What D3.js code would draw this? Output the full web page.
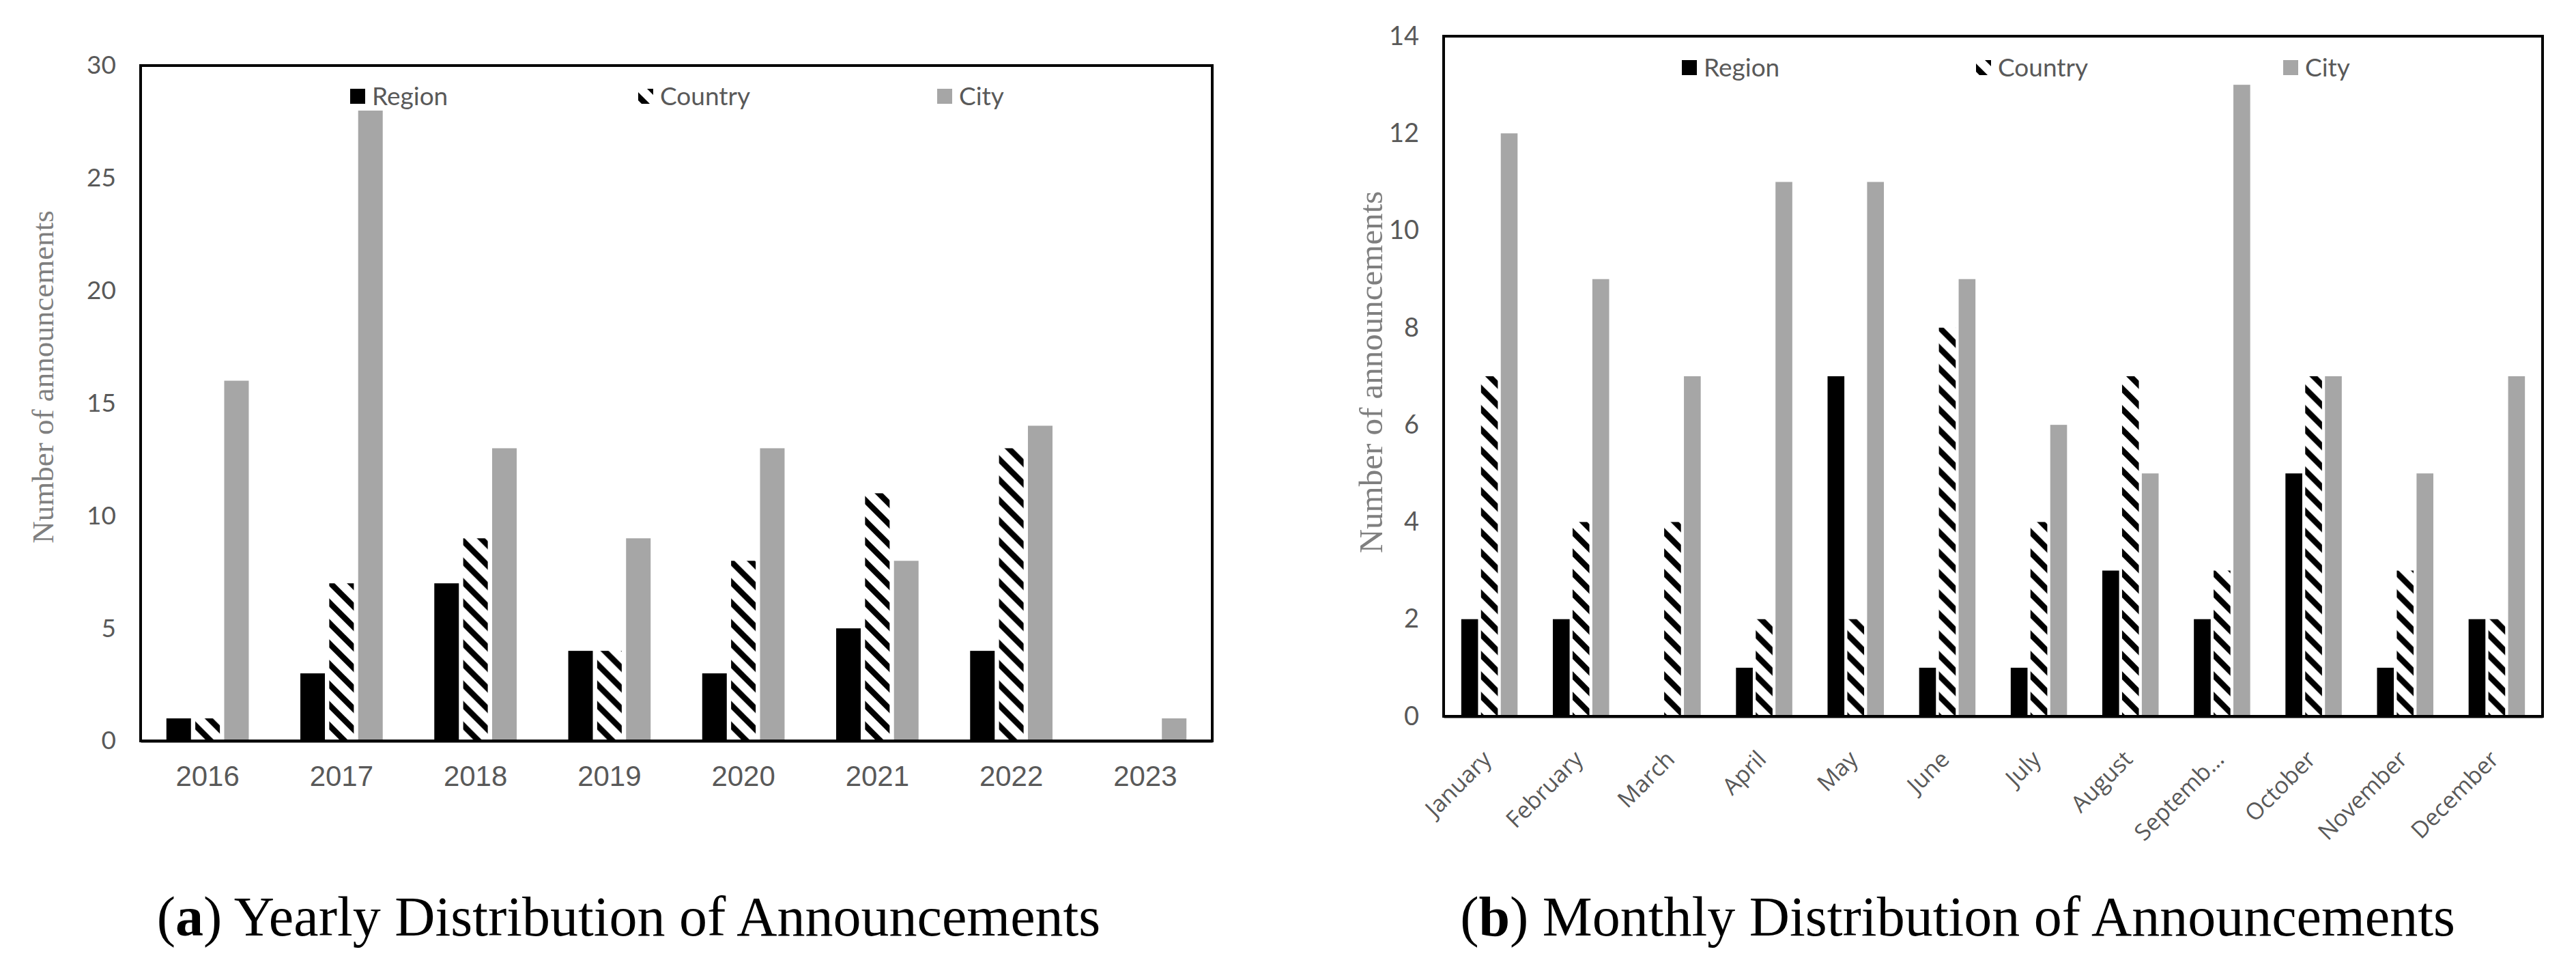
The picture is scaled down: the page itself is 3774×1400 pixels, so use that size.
<!DOCTYPE html>
<html>
<head>
<meta charset="utf-8">
<script src="https://cdn.jsdelivr.net/npm/d3@7"></script>
<style>
  body { margin: 0; background: #fff; }
  svg { display: block; }
</style>
</head>
<body>
<svg id="chart" width="3774" height="1400"></svg>
<script>
// ---- data ----
const series = ["Region", "Country", "City"];

const years = ["2016", "2017", "2018", "2019", "2020", "2021", "2022", "2023"];
const yearRegion = [1, 3, 7, 4, 3, 5, 4, 0];
const yearCountry = [1, 7, 9, 4, 8, 11, 13, 0];
const yearCity = [16, 28, 13, 9, 13, 8, 14, 1];
const yearTicks = [0, 5, 10, 15, 20, 25, 30];

const months = ["January", "February", "March", "April", "May", "June", "July",
  "August", "Septemb…", "October", "November", "December"];
const monthRegion = [2, 2, 0, 1, 7, 1, 1, 3, 2, 5, 1, 2];
const monthCountry = [7, 4, 4, 2, 2, 8, 4, 7, 3, 7, 3, 2];
const monthCity = [12, 9, 7, 11, 11, 9, 6, 5, 13, 7, 5, 7];
const monthTicks = [0, 2, 4, 6, 8, 10, 12, 14];

const yTitle = "Number of announcements";
const captionA = ["a", " Yearly Distribution of Announcements"];
const captionB = ["b", " Monthly Distribution of Announcements"];

const svg = d3.select("#chart");
svg.append("rect").attr("width", 3774).attr("height", 1400).attr("fill", "#fff");

// wide downward diagonal hatch used for the Country series
const defs = svg.append("defs");
const pat = defs.append("pattern")
  .attr("id", "hatch")
  .attr("patternUnits", "userSpaceOnUse")
  .attr("width", 30)
  .attr("height", 30);
pat.append("rect").attr("width", 30).attr("height", 30).attr("fill", "#fff");
pat.append("path")
  .attr("d", "M-8,-8L38,38M-8,22L8,38M22,-8L38,8")
  .attr("stroke", "#000")
  .attr("stroke-width", 8.5);

const fills = { Region: "#000", Country: "url(#hatch)", City: "#a6a6a6" };

function drawChart(cfg) {
  const g = svg.append("g");
  const { left, right, top, bottom } = cfg.box;

  const x0 = d3.scaleBand()
    .domain(cfg.cats)
    .range([left, right])
    .paddingInner(0.385)
    .paddingOuter(0.1925);
  const x1 = d3.scaleBand()
    .domain(series)
    .range([0, x0.bandwidth()])
    .paddingInner(0.15);
  const y = d3.scaleLinear()
    .domain([0, cfg.yMax])
    .range([bottom, top]);

  const rows = cfg.cats.map((c, i) => ({
    cat: c,
    vals: series.map((s, j) => ({ key: s, value: cfg.values[j][i] }))
  }));

  g.selectAll("g.cat")
    .data(rows)
    .join("g")
    .attr("class", "cat")
    .attr("transform", d => `translate(${x0(d.cat)},0)`)
    .selectAll("rect")
    .data(d => d.vals)
    .join("rect")
    .attr("x", d => x1(d.key))
    .attr("width", x1.bandwidth())
    .attr("y", d => y(d.value))
    .attr("height", d => y(0) - y(d.value))
    .attr("fill", d => fills[d.key]);

  // frame around the plot area
  g.append("rect")
    .attr("x", left)
    .attr("y", top)
    .attr("width", right - left)
    .attr("height", bottom - top)
    .attr("fill", "none")
    .attr("stroke", "#000")
    .attr("stroke-width", 4);

  // y axis labels
  const yAxis = g.append("g")
    .attr("transform", `translate(${left},0)`)
    .call(d3.axisLeft(y).tickValues(cfg.ticks).tickSize(0).tickPadding(36));
  yAxis.select(".domain").remove();
  yAxis.selectAll("text")
    .attr("font-family", "Lato, 'Open Sans', sans-serif")
    .attr("font-size", cfg.yFont)
    .attr("fill", "#595959");

  // x axis labels
  const xAxis = g.append("g")
    .attr("transform", `translate(0,${bottom})`)
    .call(d3.axisBottom(x0).tickSize(0).tickPadding(36));
  xAxis.select(".domain")
    .attr("stroke", "#000")
    .attr("stroke-width", 4);
  xAxis.selectAll("text")
    .attr("font-family", cfg.xFontFamily)
    .attr("font-size", cfg.xFont)
    .attr("fill", "#595959");
  if (cfg.rotate) {
    xAxis.selectAll("text")
      .attr("x", 0)
      .attr("y", 0)
      .attr("dy", 0)
      .attr("text-anchor", "end")
      .attr("transform", "translate(5,65) rotate(-45)");
  }

  // y axis title
  g.append("text")
    .attr("transform", `translate(${cfg.titleX},${cfg.titleY}) rotate(-90)`)
    .attr("text-anchor", "middle")
    .attr("dy", "0.35em")
    .attr("font-family", "'Liberation Serif', 'Times New Roman', serif")
    .attr("font-size", cfg.titleFont)
    .attr("fill", "#7f7f7f")
    .text(yTitle);

  // legend
  const lg = g.selectAll("g.legend")
    .data(series)
    .join("g")
    .attr("class", "legend")
    .attr("transform", (d, i) => `translate(${cfg.legendX[i]},${cfg.legendY})`);
  lg.append("rect")
    .attr("x", 0)
    .attr("y", -11)
    .attr("width", 22)
    .attr("height", 22)
    .attr("fill", d => fills[d]);
  lg.append("text")
    .attr("x", 32)
    .attr("dy", "0.35em")
    .attr("font-family", "Lato, 'Open Sans', sans-serif")
    .attr("font-size", 37)
    .attr("fill", "#595959")
    .text(d => d);

  // caption below the chart
  const cap = g.append("text")
    .attr("x", cfg.capX)
    .attr("y", 1370)
    .attr("text-anchor", "middle")
    .attr("font-family", "'Liberation Serif', 'Times New Roman', serif")
    .attr("font-size", 82)
    .attr("fill", "#000");
  cap.append("tspan").text("(");
  cap.append("tspan").attr("font-weight", "bold").text(cfg.caption[0]);
  cap.append("tspan").text(")" + cfg.caption[1]);
}

drawChart({
  cats: years,
  values: [yearRegion, yearCountry, yearCity],
  ticks: yearTicks,
  yMax: 30,
  box: { left: 206, right: 1776, top: 96, bottom: 1085 },
  yFont: 37,
  xFont: 42,
  xFontFamily: "'Liberation Sans', Arial, sans-serif",
  rotate: false,
  titleX: 62,
  titleY: 552,
  titleFont: 45,
  legendX: [513, 935, 1373],
  legendY: 141,
  capX: 921,
  caption: captionA
});

drawChart({
  cats: months,
  values: [monthRegion, monthCountry, monthCity],
  ticks: monthTicks,
  yMax: 14,
  box: { left: 2115, right: 3725, top: 53, bottom: 1049 },
  yFont: 38,
  xFont: 34,
  xFontFamily: "'Open Sans', sans-serif",
  rotate: true,
  titleX: 2008,
  titleY: 545,
  titleFont: 49,
  legendX: [2464, 2895, 3345],
  legendY: 99,
  capX: 2868,
  caption: captionB
});
</script>
</body>
</html>
